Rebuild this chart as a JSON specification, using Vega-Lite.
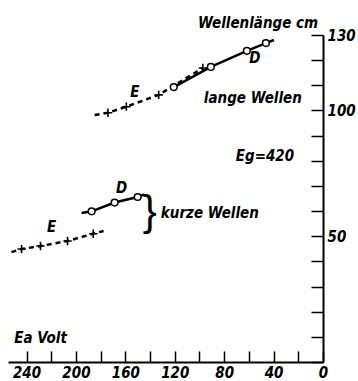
{
  "$schema": "https://vega.github.io/schema/vega-lite/v6.json",
  "width": 315,
  "height": 327,
  "autosize": {"type": "none"},
  "padding": {"left": 8, "top": 35, "right": 35, "bottom": 19},
  "background": "white",
  "config": {"view": {"stroke": null}, "font": "DejaVu Sans Condensed"},
  "datasets": {
    "curves": [
      {"curve": "lang_D", "kind": "D", "v": 120.8, "cm": 109.3, "marker": "circle"},
      {"curve": "lang_D", "kind": "D", "v": 90.8, "cm": 117.3, "marker": "circle"},
      {"curve": "lang_D", "kind": "D", "v": 61.6, "cm": 123.7, "marker": "circle"},
      {"curve": "lang_D", "kind": "D", "v": 46.2, "cm": 126.8, "marker": "circle"},
      {"curve": "lang_D", "kind": "D", "v": 39.7, "cm": 128.0, "marker": "none"},
      {"curve": "lang_E", "kind": "E", "v": 184.9, "cm": 98.2, "marker": "none"},
      {"curve": "lang_E", "kind": "E", "v": 174.1, "cm": 99.1, "marker": "cross"},
      {"curve": "lang_E", "kind": "E", "v": 159.2, "cm": 101.5, "marker": "cross"},
      {"curve": "lang_E", "kind": "E", "v": 133.0, "cm": 106.2, "marker": "cross"},
      {"curve": "lang_E", "kind": "E", "v": 97.3, "cm": 116.9, "marker": "cross"},
      {"curve": "kurz_D", "kind": "D", "v": 195.4, "cm": 59.2, "marker": "none"},
      {"curve": "kurz_D", "kind": "D", "v": 187.3, "cm": 59.9, "marker": "circle"},
      {"curve": "kurz_D", "kind": "D", "v": 168.7, "cm": 63.4, "marker": "circle"},
      {"curve": "kurz_D", "kind": "D", "v": 150.0, "cm": 65.6, "marker": "circle"},
      {"curve": "kurz_D", "kind": "D", "v": 145.0, "cm": 66.6, "marker": "none"},
      {"curve": "kurz_E", "kind": "E", "v": 252.2, "cm": 43.7, "marker": "none"},
      {"curve": "kurz_E", "kind": "E", "v": 244.0, "cm": 44.9, "marker": "cross"},
      {"curve": "kurz_E", "kind": "E", "v": 228.7, "cm": 46.1, "marker": "cross"},
      {"curve": "kurz_E", "kind": "E", "v": 206.8, "cm": 48.1, "marker": "cross"},
      {"curve": "kurz_E", "kind": "E", "v": 186.0, "cm": 51.0, "marker": "cross"},
      {"curve": "kurz_E", "kind": "E", "v": 177.6, "cm": 52.1, "marker": "none"}
    ],
    "labels": [
      {"text": "E", "v": 152.4, "cm": 107.4},
      {"text": "D", "v": 55.1, "cm": 120.9},
      {"text": "lange Wellen", "v": 56.8, "cm": 105.0},
      {"text": "Eg=420", "v": 47.0, "cm": 81.8},
      {"text": "kurze Wellen", "v": 91.6, "cm": 59.2},
      {"text": "D", "v": 163.0, "cm": 69.2},
      {"text": "E", "v": 219.7, "cm": 53.7}
    ],
    "title": [
      {"text": "Wellenlänge cm", "v": 4.0, "cm": 134.8}
    ],
    "xtitle": [
      {"text": "Ea Volt", "v": 250.0, "cm": 9.5}
    ],
    "brace": [
      {"text": "}", "v": 140.3, "cm": 59.6}
    ]
  },
  "encoding": {
    "x": {
      "field": "v", "type": "quantitative",
      "scale": {"domain": [0, 255], "reverse": true, "nice": false, "zero": false},
      "axis": {
        "orient": "bottom",
        "values": [0, 20, 40, 60, 80, 100, 120, 140, 160, 180, 200, 220, 240],
        "labelExpr": "datum.value % 40 == 0 ? datum.label : ''",
        "tickSize": -11, "tickWidth": 1.5, "tickColor": "black",
        "domainWidth": 2, "domainColor": "black",
        "labelFont": "DejaVu Sans Condensed", "labelFontStyle": "italic", "labelFontWeight": "bold", "labelFontSize": 15,
        "labelColor": "black", "labelPadding": 14, "labelFlush": false, "labelOverlap": false,
        "grid": false, "title": null
      }
    },
    "y": {
      "field": "cm", "type": "quantitative",
      "scale": {"domain": [0, 130], "nice": false, "zero": false},
      "axis": {
        "orient": "right",
        "values": [0, 10, 20, 30, 40, 50, 60, 70, 80, 90, 100, 110, 120, 130],
        "labelExpr": "datum.value == 50 || datum.value == 100 || datum.value == 130 ? datum.label : ''",
        "tickSize": -12, "tickWidth": 1.5, "tickColor": "black",
        "domainWidth": 2, "domainColor": "black",
        "labelFont": "DejaVu Sans Condensed", "labelFontStyle": "italic", "labelFontWeight": "bold", "labelFontSize": 15,
        "labelColor": "black", "labelPadding": 16, "labelFlush": false, "labelOverlap": false,
        "labelAlign": "left", "labelBaseline": "middle",
        "grid": false, "title": null
      }
    }
  },
  "layer": [
    {
      "data": {"name": "curves"},
      "transform": [{"filter": "datum.kind == 'D'"}],
      "mark": {"type": "line", "color": "black", "strokeWidth": 2.5, "clip": false},
      "encoding": {"detail": {"field": "curve"}, "order": {"field": "v", "sort": "descending"}}
    },
    {
      "data": {"name": "curves"},
      "transform": [{"filter": "datum.kind == 'E'"}],
      "mark": {"type": "line", "color": "black", "strokeWidth": 2.5, "strokeDash": [5, 4], "clip": false},
      "encoding": {"detail": {"field": "curve"}, "order": {"field": "v", "sort": "descending"}}
    },
    {
      "data": {"name": "curves"},
      "transform": [{"filter": "datum.marker == 'cross'"}],
      "mark": {"type": "point", "shape": "M-1,0L1,0M0,-1L0,1", "filled": false, "stroke": "black", "strokeWidth": 1.6, "size": 70, "opacity": 1},
      "encoding": {}
    },
    {
      "data": {"name": "curves"},
      "transform": [{"filter": "datum.marker == 'circle'"}],
      "mark": {"type": "point", "shape": "circle", "filled": false, "fill": "white", "fillOpacity": 1, "stroke": "black", "strokeWidth": 1.5, "size": 45, "opacity": 1},
      "encoding": {}
    },
    {
      "data": {"name": "labels"},
      "mark": {"type": "text", "font": "DejaVu Sans Condensed", "fontStyle": "italic", "fontWeight": "bold", "fontSize": 15, "color": "black", "baseline": "middle", "align": "center"},
      "encoding": {"text": {"field": "text"}}
    },
    {
      "data": {"name": "title"},
      "mark": {"type": "text", "font": "DejaVu Sans Condensed", "fontStyle": "italic", "fontWeight": "bold", "fontSize": 15, "color": "black", "baseline": "middle", "align": "right"},
      "encoding": {"text": {"field": "text"}}
    },
    {
      "data": {"name": "xtitle"},
      "mark": {"type": "text", "font": "DejaVu Sans Condensed", "fontStyle": "italic", "fontWeight": "bold", "fontSize": 15, "color": "black", "baseline": "middle", "align": "left"},
      "encoding": {"text": {"field": "text"}}
    },
    {
      "data": {"name": "brace"},
      "mark": {"type": "text", "font": "Liberation Sans", "fontSize": 42, "color": "black", "baseline": "middle", "align": "center"},
      "encoding": {"text": {"field": "text"}}
    }
  ]
}
